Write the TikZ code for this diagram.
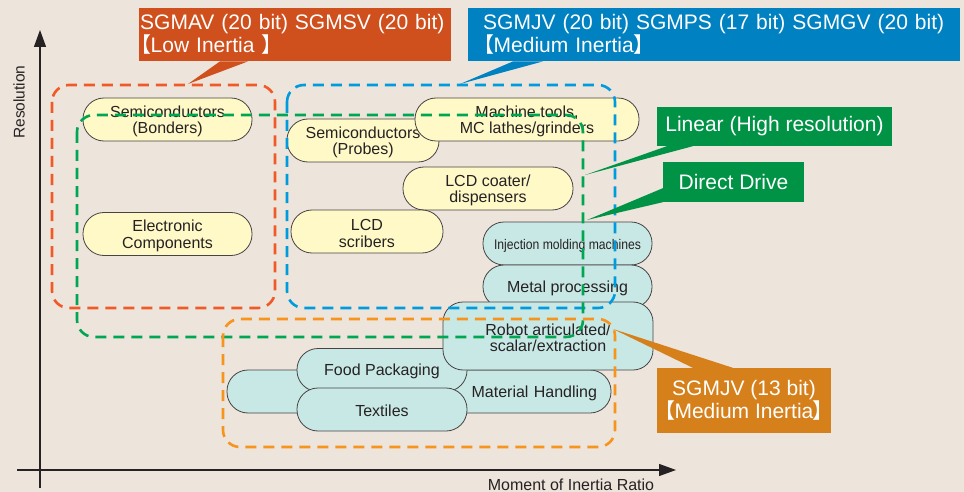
\documentclass[tikz,border=0pt]{standalone}
\usepackage{fontspec}
\setmainfont{Liberation Sans}
\newfontfamily\cjk[RawFeature=+palt]{Noto Sans CJK SC}
\usepackage{graphicx}
\usepackage{tikz}
\usetikzlibrary{arrows.meta,calc}
\definecolor{bgbeige}{RGB}{237,228,219}
\definecolor{ink}{RGB}{38,34,35}
\definecolor{pillyellow}{RGB}{255,249,199}
\definecolor{pillcyan}{RGB}{200,232,229}
\definecolor{lowred}{RGB}{207,79,29}
\definecolor{midblue}{RGB}{0,129,193}
\definecolor{drivegreen}{RGB}{0,147,69}
\definecolor{jvorange}{RGB}{214,128,27}
\definecolor{zonered}{RGB}{240,90,40}
\definecolor{zoneblue}{RGB}{0,155,222}
\definecolor{zonegreen}{RGB}{0,166,81}
\definecolor{zoneorange}{RGB}{247,148,29}
\newcommand{\openbrk}{{\cjk 【}}
\newcommand{\closebrk}{{\cjk 】}}

\begin{document}
\begin{tikzpicture}[x=1pt,y=-1pt,join=round,
        pill/.style={draw=ink!85,line width=0.8pt,rounded corners=21pt,minimum height=43pt,inner sep=0pt,align=center,text=ink,text height=15pt,font=\fontsize{16}{16.5}\selectfont},
        twolines/.style={text height=32pt},
        yellowpill/.style={pill,fill=pillyellow},
        cyanpill/.style={pill,fill=pillcyan},
        zone/.style={line width=2.6pt,dash pattern=on 11pt off 7pt,rounded corners=17pt},
        callout/.style={text=white,inner sep=0pt,font=\fontsize{21}{21.5}\selectfont},
        axis/.style={draw=ink,line width=1.2pt,-{Triangle[length=17pt,width=12pt]}}]% servo families by application
        \useasboundingbox (0,0) rectangle (964,492);
        \fill[bgbeige] (0,0) rectangle (964,492);
        \coordinate (ybot) at (40,488);
        \coordinate (ytop) at (40,30);
        \coordinate (xleft) at (17,470);
        \coordinate (xright) at (676,470);
        \draw[axis] (ybot) -- (ytop);
        \draw[axis] (xleft) -- (xright);
        \node[rotate=90,text=ink,font=\fontsize{15.5}{16}\selectfont] (resolution) at (19,102) {Resolution};
        \node[anchor=base,text=ink,font=\fontsize{16}{16}\selectfont] (inertia) at (571,490) {Moment of Inertia Ratio};
        \node[yellowpill,twolines,minimum width=169pt] (bonders) at (167.5,119.5) {Semiconductors\\(Bonders)};
        \node[yellowpill,twolines,minimum width=169pt] (electronic) at (167.5,234) {Electronic\\Components};
        \node[yellowpill,twolines,minimum width=152pt] (probes) at (363,140.5) {Semiconductors\\(Probes)};
        \node[yellowpill,twolines,minimum width=224pt] (machine) at (527,119.5) {Machine tools,\\MC lathes/grinders};
        \node[yellowpill,twolines,minimum width=170pt] (coater) at (488,188.5) {LCD coater/\\dispensers};
        \node[yellowpill,twolines,minimum width=152pt] (scribers) at (367,231.5) {LCD\\scribers};
        \node[cyanpill,minimum width=169pt] (injection) at (567.5,243.5) {\scalebox{0.87}[1]{\fontsize{14}{16}\selectfont Injection molding machines}};
        \node[cyanpill,minimum width=169pt] (metal) at (567.5,286.5) {Metal processing};
        \node[cyanpill,minimum width=384pt,text width=356pt,align=right] (handling) at (419,391.5) {Material Handling};
        \node[cyanpill,minimum width=170pt] (food) at (382,370) {Food Packaging};
        \node[cyanpill,minimum width=170pt] (textiles) at (382,409.5) {Textiles};
        \node[cyanpill,twolines,minimum width=210pt,minimum height=68pt,rounded corners=20pt] (robot) at (548,336) {Robot articulated/\\scalar/extraction};
        \draw[zone,draw=zonered] (52,85) rectangle (275,308);
        \draw[zone,draw=zoneblue] (287,85) rectangle (615,308);
        \draw[zone,draw=zonegreen] (77,115) rectangle (583,337);
        \draw[zone,draw=zoneorange] (223,319) rectangle (615,447);
        \node[callout,fill=lowred,anchor=north west,minimum width=312pt,minimum height=53pt,text width=310pt,inner xsep=1pt,align=left] (lowbox) at (139,8) {SGMAV (20 bit) SGMSV (20 bit)\\\openbrk Low Inertia \closebrk};
        \node[callout,fill=midblue,anchor=north west,minimum width=492pt,minimum height=53pt,text width=462pt,inner xsep=15pt,align=left] (midbox) at (468,8) {SGMJV (20 bit) SGMPS (17 bit) SGMGV (20 bit)\\\openbrk Medium Inertia\closebrk};
        \node[callout,fill=drivegreen,minimum width=235pt,minimum height=39pt] (linearbox) at (774.5,126.5) {Linear (High resolution)};
        \node[callout,fill=drivegreen,minimum width=141pt,minimum height=40pt] (drivebox) at (733.5,182) {Direct Drive};
        \node[callout,fill=jvorange,minimum width=174pt,minimum height=65pt,align=center,font=\fontsize{21}{22}\selectfont] (jvbox) at (744,400.5) {SGMJV (13 bit)\\\openbrk Medium Inertia\closebrk};
        \coordinate (lowtip) at (188,84);
        \coordinate (midtip) at (460,84);
        \coordinate (lineartip) at (585,175);
        \coordinate (drivetip) at (587,220);
        \coordinate (jvtip) at (613,329);
        \fill[lowred] ($(lowbox.south west)+(81,0)$) -- (lowtip) -- ($(lowbox.south west)+(109,0)$) -- cycle;
        \fill[midblue] ($(midbox.south west)+(45,0)$) -- (midtip) -- ($(midbox.south west)+(75,0)$) -- cycle;
        \fill[drivegreen] ($(linearbox.south west)+(10,0)$) -- (lineartip) -- ($(linearbox.south west)+(36,0)$) -- cycle;
        \fill[drivegreen] ($(drivebox.south west)+(0,-14)$) -- (drivetip) -- (drivebox.south west) -- cycle;
        \fill[jvorange] ($(jvbox.north west)+(36,0)$) -- (jvtip) -- ($(jvbox.north west)+(76,0)$) -- cycle;
\end{tikzpicture}
\end{document}
